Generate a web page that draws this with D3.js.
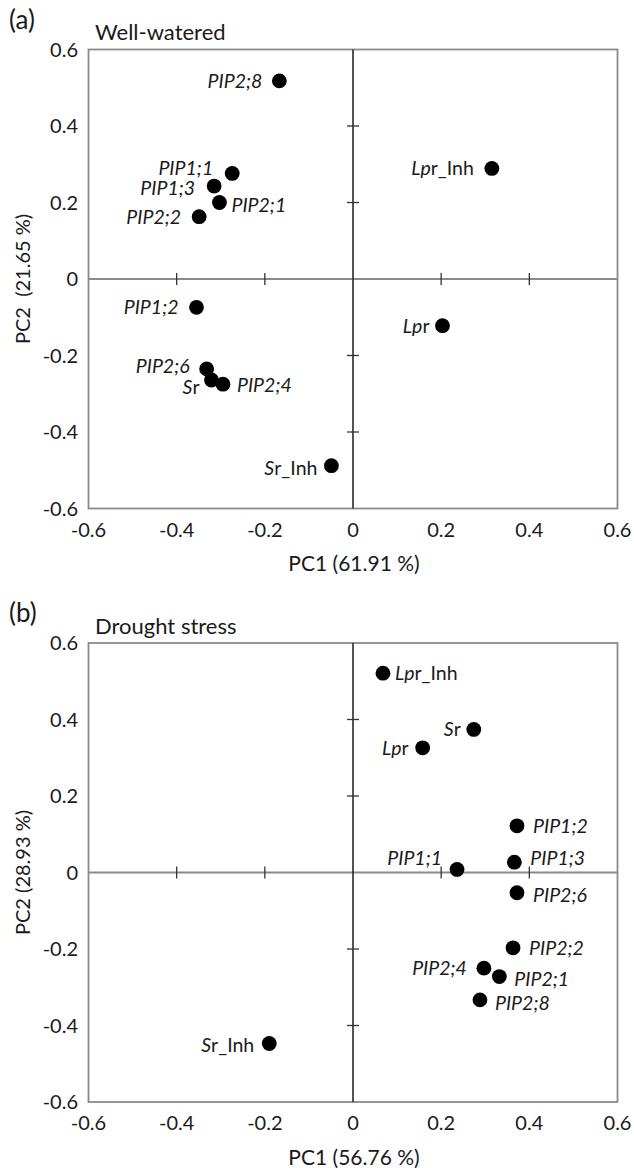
<!DOCTYPE html>
<html>
<head>
<meta charset="utf-8">
<script src="https://cdn.jsdelivr.net/npm/d3@7"></script>
<style>
  html, body { margin: 0; padding: 0; background: #fff; }
  svg { display: block; font-family: Lato, "Open Sans", sans-serif; }
</style>
</head>
<body>
<svg id="chart" width="634" height="1168"></svg>
<script>
// PCA scores, panel (a) well-watered
const wwNames = ["PIP2;8", "PIP1;1", "PIP1;3", "PIP2;1", "PIP2;2", "Lpr_Inh",
                 "PIP1;2", "Lpr", "PIP2;6", "Sr", "PIP2;4", "Sr_Inh"];
const wwPC1 = [-0.167, -0.274, -0.315, -0.303, -0.349, 0.315,
               -0.355, 0.203, -0.332, -0.321, -0.295, -0.049];
const wwPC2 = [0.518, 0.276, 0.243, 0.200, 0.163, 0.289,
               -0.074, -0.122, -0.235, -0.264, -0.275, -0.488];

// PCA scores, panel (b) drought stress
const dsNames = ["Lpr_Inh", "Sr", "Lpr", "PIP1;2", "PIP1;1", "PIP1;3",
                 "PIP2;6", "PIP2;2", "PIP2;4", "PIP2;1", "PIP2;8", "Sr_Inh"];
const dsPC1 = [0.068, 0.274, 0.158, 0.372, 0.236, 0.366,
               0.372, 0.363, 0.297, 0.332, 0.288, -0.190];
const dsPC2 = [0.521, 0.374, 0.326, 0.122, 0.008, 0.027,
               -0.053, -0.197, -0.250, -0.272, -0.333, -0.447];

const axisTicks = [-0.6, -0.4, -0.2, 0, 0.2, 0.4, 0.6];
const innerTicks = [-0.4, -0.2, 0.2, 0.4];

const panels = [
  { tag: "(a)", title: "Well-watered", xTitle: "PC1 (61.91 %)", yTitle: "PC2\u00a0\u00a0(21.65 %)",
    names: wwNames, pc1: wwPC1, pc2: wwPC2 },
  { tag: "(b)", title: "Drought stress", xTitle: "PC1 (56.76 %)", yTitle: "PC2 (28.93 %)",
    names: dsNames, pc1: dsPC1, pc2: dsPC2 }
];

// label placement per panel: side of the dot, gap from dot centre, vertical nudge
const placement = [
  { "PIP2;8": ["L", 17, 0], "PIP1;1": ["L", 19, -5], "PIP1;3": ["L", 19, 2], "PIP2;1": ["R", 12, 2],
    "PIP2;2": ["L", 18, 0], "Lpr_Inh": ["L", 18, 0], "PIP1;2": ["L", 18, 0], "Lpr": ["L", 13, 0],
    "PIP2;6": ["L", 17, -3], "Sr": ["L", 12, 7], "PIP2;4": ["R", 14, 1], "Sr_Inh": ["L", 14, 2] },
  { "Lpr_Inh": ["R", 12, 0], "Sr": ["L", 13, 0], "Lpr": ["L", 14, 0], "PIP1;2": ["R", 16, 0],
    "PIP1;1": ["L", 15, -11], "PIP1;3": ["R", 16, -4], "PIP2;6": ["R", 16, 2], "PIP2;2": ["R", 16, 0],
    "PIP2;4": ["L", 17, 0], "PIP2;1": ["R", 15, 2], "PIP2;8": ["R", 15, 3], "Sr_Inh": ["L", 15, 2] }
];

const svg = d3.select("#chart");
const left = 88.5, right = 617.5;
const tops = [49.5, 643];
const plotH = 459;
const textColor = "#1a1a1a";

const x = d3.scaleLinear().domain([-0.6, 0.6]).range([left, right]);

// split a name into italic and upright pieces
function pieces(name) {
  if (name.startsWith("PIP")) return [[name, true]];
  if (name.startsWith("Lpr")) return [["Lp", true], [name.slice(2), false]];
  if (name.startsWith("Sr")) return [["S", true], [name.slice(1), false]];
  return [[name, false]];
}

// tick labels use a plain hyphen for negatives
const fmt = d => d === 0 ? "0" : d.toFixed(1);

panels.forEach((p, i) => {
  const top = tops[i];
  const y = d3.scaleLinear().domain([-0.6, 0.6]).range([top + plotH, top]);
  const g = svg.append("g");

  // frame
  g.append("rect")
    .attr("x", left).attr("y", top)
    .attr("width", right - left).attr("height", plotH)
    .attr("fill", "none").attr("stroke", "#8a8a8a").attr("stroke-width", 1.8);

  // zero lines
  g.append("line")
    .attr("x1", left).attr("x2", right).attr("y1", y(0)).attr("y2", y(0))
    .attr("stroke", "#8a8a8a").attr("stroke-width", 2);
  g.append("line")
    .attr("x1", x(0)).attr("x2", x(0)).attr("y1", top).attr("y2", top + plotH)
    .attr("stroke", "#2a2a2a").attr("stroke-width", 1.6);

  // tick marks crossing the zero lines
  g.selectAll(".xt").data(innerTicks).join("line")
    .attr("x1", d => x(d)).attr("x2", d => x(d))
    .attr("y1", y(0) - 6).attr("y2", y(0) + 6)
    .attr("stroke", "#333").attr("stroke-width", 1.3);
  g.selectAll(".yt").data(innerTicks).join("line")
    .attr("x1", x(0) - 6).attr("x2", x(0) + 6)
    .attr("y1", d => y(d)).attr("y2", d => y(d))
    .attr("stroke", "#333").attr("stroke-width", 1.3);

  // tick labels
  g.selectAll(".yl").data(axisTicks).join("text")
    .attr("x", 78).attr("y", d => y(d)).attr("dy", "0.36em")
    .attr("text-anchor", "end").attr("font-size", 20).attr("fill", textColor)
    .text(fmt);
  g.selectAll(".xl").data(axisTicks).join("text")
    .attr("x", d => x(d)).attr("y", top + plotH + 21).attr("dy", "0.36em")
    .attr("text-anchor", "middle").attr("font-size", 20).attr("fill", textColor)
    .text(fmt);

  // axis titles
  g.append("text")
    .attr("x", (left + right) / 2 + 1).attr("y", top + plotH + 62.5)
    .attr("text-anchor", "middle").attr("font-size", 21).attr("fill", textColor)
    .text(p.xTitle);
  g.append("text")
    .attr("transform", `translate(23,${y(0)}) rotate(-90)`)
    .attr("dy", "0.36em")
    .attr("text-anchor", "middle").attr("font-size", 20).attr("fill", textColor)
    .text(p.yTitle);

  // panel tag and title
  g.append("text")
    .attr("x", 9).attr("y", top - 21)
    .attr("font-size", 26).attr("fill", textColor)
    .text(p.tag);
  g.append("text")
    .attr("x", 95).attr("y", top - 9.5)
    .attr("font-size", 22).attr("fill", textColor)
    .text(p.title);

  // points and labels
  const pts = p.names.map((n, k) => ({ name: n, pc1: p.pc1[k], pc2: p.pc2[k] }));
  g.selectAll(".pt").data(pts).join("circle")
    .attr("cx", d => x(d.pc1)).attr("cy", d => y(d.pc2))
    .attr("r", 7.4).attr("fill", "#000");

  pts.forEach(d => {
    const [side, gap, dy] = placement[i][d.name];
    const t = g.append("text")
      .attr("x", x(d.pc1) + (side === "R" ? gap : -gap))
      .attr("y", y(d.pc2) + dy).attr("dy", "0.36em")
      .attr("text-anchor", side === "R" ? "start" : "end")
      .attr("font-size", 19.5).attr("fill", textColor);
    pieces(d.name).forEach(([s, it]) => {
      t.append("tspan").attr("font-style", it ? "italic" : "normal").text(s);
    });
  });
});
</script>
</body>
</html>
